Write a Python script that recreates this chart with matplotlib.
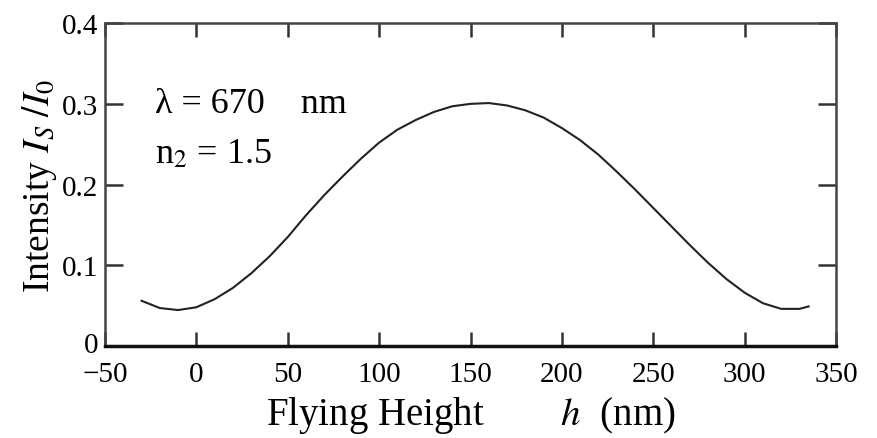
import matplotlib
matplotlib.use('Agg')
import matplotlib.pyplot as plt
import matplotlib.transforms as mtransforms

# Datos
height_nm = [-30, -20, -10, 0, 10, 20, 30, 40, 50, 60, 70, 80, 90, 100,
             110, 120, 130, 140, 150, 160, 170, 180, 190, 200, 210, 220,
             230, 240, 250, 260, 270, 280, 290, 300, 310, 320, 330, 335]
intensity = [0.056, 0.047, 0.0445, 0.048, 0.058, 0.072, 0.090, 0.111, 0.135,
             0.162, 0.187, 0.210, 0.232, 0.252, 0.268, 0.280, 0.290, 0.297,
             0.300, 0.301, 0.298, 0.292, 0.283, 0.270, 0.255, 0.237, 0.216,
             0.194, 0.171, 0.148, 0.125, 0.103, 0.083, 0.066, 0.053, 0.046,
             0.046, 0.049]

x_ticks = [-50, 0, 50, 100, 150, 200, 250, 300, 350]
y_ticks = [0, 0.1, 0.2, 0.3, 0.4]
y_labels = ['0', '0.1', '0.2', '0.3', '0.4']

plt.rcParams['font.family'] = ['Liberation Serif', 'DejaVu Serif']
plt.rcParams['mathtext.fontset'] = 'stix'

fig = plt.figure(figsize=(8.78, 4.39), dpi=100)
ax = fig.add_axes([0.1196, 0.2096, 0.8326, 0.7354])

ax.plot(height_nm, intensity, color='#222222', lw=1.5)

ax.set_xlim(-50, 350)
ax.set_ylim(0, 0.4)
ax.set_xticks(x_ticks)
ax.set_yticks(y_ticks)
ax.set_yticklabels(y_labels)

ax.tick_params(axis='both', direction='in', length=13, width=1.8,
               labelsize=21, color='#333333', top=True, right=True, pad=5)
ax.tick_params(axis='x', which='both', bottom=True, length=10, pad=11)

# Subir un poco la etiqueta "0" del eje Y (como en el original)
shift = mtransforms.ScaledTranslation(0, 3 / 72, fig.dpi_scale_trans)
lab0 = ax.get_yticklabels()[0]
lab0.set_transform(lab0.get_transform() + shift)

for side in ['left', 'right', 'top']:
    ax.spines[side].set_linewidth(1.8)
    ax.spines[side].set_color('#444444')
ax.spines['bottom'].set_linewidth(2.5)
ax.spines['bottom'].set_color('#111111')

ax.set_xlabel(r'Flying Height        $\mathit{h}$  (nm)', fontsize=28, labelpad=5)
ax.set_ylabel(r'Intensity $I_S\ /I_0$', fontsize=27, labelpad=2)

# Anotaciones
ax.text(0.068, 0.75, 'λ = 670    nm', transform=ax.transAxes,
        fontsize=26, va='center', ha='left')
ax.text(0.068, 0.595, r'n$_2$ = 1.5', transform=ax.transAxes,
        fontsize=26, va='center', ha='left')

fig.savefig('out.png', dpi=100)
plt.close(fig)
